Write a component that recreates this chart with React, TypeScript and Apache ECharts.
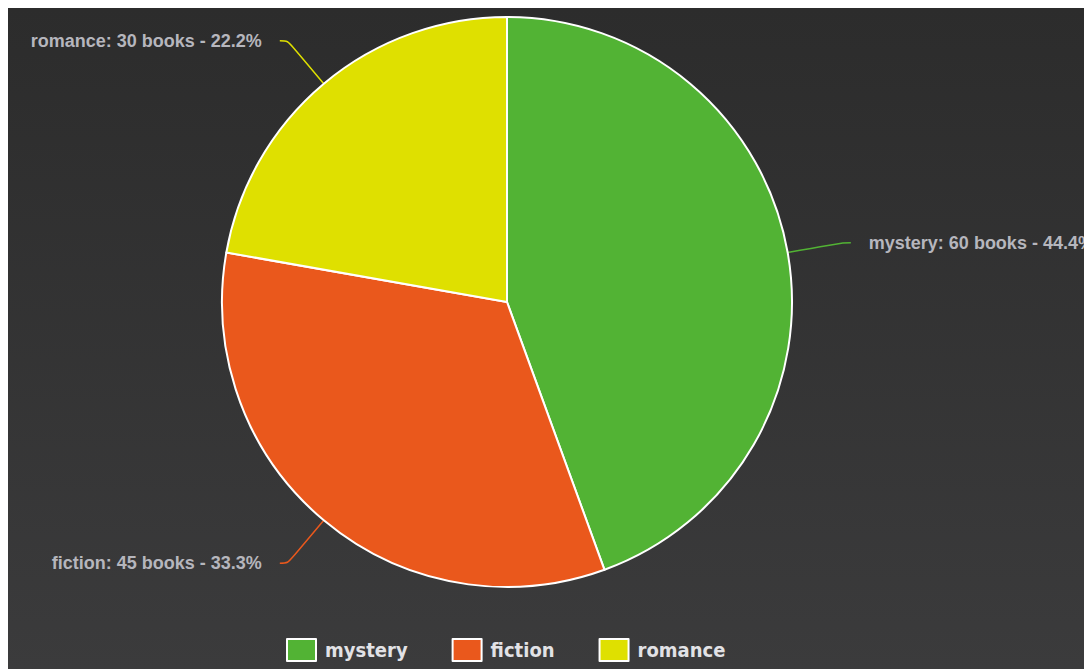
import React, { useEffect, useRef } from "react";
import * as echarts from "echarts";

const categories = ["mystery", "fiction", "romance"];
const values = [60, 45, 30];
const colors = ["#52b334", "#ea581c", "#dfe000"];

export default function App() {
  const ref = useRef<HTMLDivElement>(null);
  useEffect(() => {
    if (!ref.current) return;
    const chart = echarts.init(ref.current, null, { renderer: "svg" });
    const total = values.reduce((a, b) => a + b, 0);
    chart.setOption({
      animation: false,
      backgroundColor: {
        type: "linear",
        x: 0,
        y: 0,
        x2: 0,
        y2: 1,
        colorStops: [
          { offset: 0, color: "#2c2c2c" },
          { offset: 1, color: "#3b3b3c" },
        ],
      },
      color: colors,
      legend: {
        bottom: 2,
        left: 273,
        itemWidth: 29,
        itemHeight: 22,
        itemGap: 44,
        icon: "rect",
        textStyle: {
          color: "#e2e2e6",
          fontSize: 20,
          fontFamily: "'DejaVu Sans Condensed', 'Liberation Sans Narrow', sans-serif",
          fontWeight: "bold",
          padding: [0, 0, 0, 4],
        },
        data: categories,
      },
      series: [
        {
          type: "pie",
          center: [499, 294],
          radius: 285,
          startAngle: 90,
          clockwise: true,
          itemStyle: { borderColor: "#ffffff", borderWidth: 2 },
          label: {
            formatter: (p: any) =>
              `${p.name}: ${p.value} books - ${((p.value / total) * 100).toFixed(1)}%`,
            color: "#b6b6bd",
            fontSize: 18,
            fontWeight: "bold",
            fontFamily: "'Liberation Sans', Arial, sans-serif",
            distanceToLabelLine: 18,
            overflow: "none",
            padding: [6, 0, 0, 0],
          },
          labelLine: {
            show: true,
            length: 56,
            length2: 8,
            smooth: true,
            lineStyle: { width: 1.5 },
          },
          emphasis: { disabled: true },
          data: categories.map((c, i) => ({ name: c, value: values[i] })),
        },
      ],
    });
    return () => chart.dispose();
  }, []);
  return <div ref={ref} style={{ width: 1084, height: 661 }} />;
}
